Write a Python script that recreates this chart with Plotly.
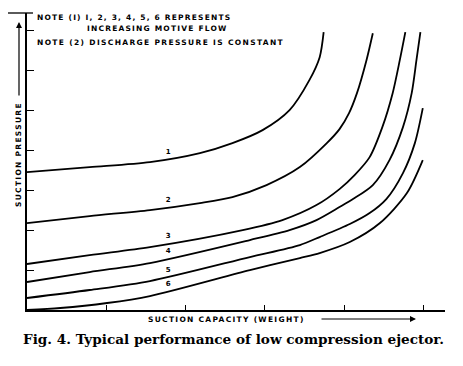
import plotly.graph_objects as go

# Curve data (suction capacity vs suction pressure, arbitrary units)
c1_x = [0, 0.79, 1.55, 2.18, 2.59, 2.97, 3.31, 3.56, 3.69, 3.74]
c1_y = [3.45, 3.575, 3.7, 3.925, 4.175, 4.5, 5.0, 5.75, 6.325, 6.95]
c2_x = [0, 0.79, 1.55, 2.18, 2.59, 3.02, 3.44, 3.78, 3.94, 4.06, 4.16, 4.28, 4.36]
c2_y = [2.175, 2.35, 2.5, 2.675, 2.825, 3.125, 3.575, 4.175, 4.525, 4.925, 5.425, 6.25, 6.925]
c3_x = [0, 0.79, 1.55, 2.72, 3.22, 3.65, 3.94, 4.13, 4.32, 4.48, 4.61, 4.70, 4.77]
c3_y = [1.15, 1.375, 1.575, 2.0, 2.25, 2.625, 3.025, 3.375, 3.825, 4.575, 5.425, 6.25, 6.95]
c4_x = [0, 0.79, 1.55, 2.81, 3.31, 3.65, 3.94, 4.11, 4.36, 4.57, 4.74, 4.85, 4.91, 4.96]
c4_y = [0.7, 0.95, 1.175, 1.75, 2.0, 2.25, 2.575, 2.775, 3.125, 3.75, 4.575, 5.425, 6.25, 6.95]
c5_x = [0, 0.79, 1.55, 2.81, 3.44, 3.69, 4.07, 4.32, 4.53, 4.74, 4.89, 4.99]
c5_y = [0.3, 0.5, 0.725, 1.325, 1.625, 1.825, 2.15, 2.425, 2.775, 3.425, 4.175, 5.05]
c6_x = [0, 0.42, 1.01, 1.55, 2.81, 3.44, 3.69, 4.07, 4.45, 4.79, 4.99]
c6_y = [0, 0.05, 0.175, 0.35, 1.0, 1.3, 1.425, 1.7, 2.175, 2.925, 3.75]

curve_labels = ["1", "2", "3", "4", "5", "6"]
label_x = [1.78, 1.78, 1.78, 1.78, 1.78, 1.78]
label_y = [3.95, 2.75, 1.85, 1.475, 1.0, 0.65]

x_ticks = [1, 2, 3, 4, 5]
y_ticks = [1, 2, 3, 4, 5, 6, 7]

# page body has an 8px margin; figure is laid out in page pixel coordinates
OFF = 8
W, H = 463 - 2 * OFF, 366 - 2 * OFF
L, R, T, B = 27, 445, 13, 310


def px(x):
    return (x - L) / (R - L)


def py(y):
    return (B - y) / (B - T)


def spaced(s, sp):
    return '<span style="letter-spacing:%spx">%s</span>' % (sp, s)


fig = go.Figure()
for xs, ys in [(c1_x, c1_y), (c2_x, c2_y), (c3_x, c3_y), (c4_x, c4_y), (c5_x, c5_y), (c6_x, c6_y)]:
    fig.add_trace(go.Scatter(x=xs, y=ys, mode="lines",
                             line=dict(color="black", width=1.8, shape="spline", smoothing=0.8),
                             showlegend=False, hoverinfo="skip"))

fig.add_trace(go.Scatter(x=label_x, y=label_y, mode="text", text=curve_labels,
                         textfont=dict(family="DejaVu Sans", size=7, color="black", weight="bold"),
                         showlegend=False, hoverinfo="skip"))

note_font = dict(family="DejaVu Sans", size=7.5, color="black", weight="bold")
lab_font = dict(family="DejaVu Sans", size=7.5, color="black", weight="bold")
annotations = [
    dict(x=px(35), y=py(17), xref="paper", yref="paper", text=spaced("NOTE (I) I, 2, 3, 4, 5, 6 REPRESENTS", 1.2),
         showarrow=False, xanchor="left", yanchor="middle", font=note_font),
    dict(x=px(85), y=py(29), xref="paper", yref="paper", text=spaced("INCREASING MOTIVE FLOW", 1.2),
         showarrow=False, xanchor="left", yanchor="middle", font=note_font),
    dict(x=px(35), y=py(42), xref="paper", yref="paper", text=spaced("NOTE (2) DISCHARGE PRESSURE IS CONSTANT", 1.35),
         showarrow=False, xanchor="left", yanchor="middle", font=note_font),
    dict(x=px(18), y=py(155), xref="paper", yref="paper", text=spaced("SUCTION PRESSURE", 1.3), textangle=-90,
         showarrow=False, xanchor="center", yanchor="middle", font=lab_font),
    dict(x=px(226), y=py(319), xref="paper", yref="paper", text=spaced("SUCTION CAPACITY (WEIGHT)", 1.3),
         showarrow=False, xanchor="center", yanchor="middle", font=lab_font),
    dict(x=px(233), y=py(339), xref="paper", yref="paper",
         text="Fig. 4. Typical performance of low compression ejector.",
         showarrow=False, xanchor="center", yanchor="middle",
         font=dict(family="DejaVu Serif", size=13.6, color="black", weight="bold")),
    # x-label arrow
    dict(x=px(416), y=py(319), xref="paper", yref="paper", ax=-96, ay=0, axref="pixel", ayref="pixel",
         text="", showarrow=True, arrowhead=2, arrowsize=1, arrowwidth=1.2, arrowcolor="black"),
    # y-label arrow
    dict(x=px(19), y=py(22), xref="paper", yref="paper", ax=0, ay=75, axref="pixel", ayref="pixel",
         text="", showarrow=True, arrowhead=2, arrowsize=1, arrowwidth=1.2, arrowcolor="black"),
]

shapes = [
    dict(type="line", xref="paper", yref="paper", x0=px(7), x1=px(33), y0=py(13), y1=py(13),
         line=dict(color="black", width=1.3)),
]

fig.update_layout(
    width=W, height=H,
    margin=dict(l=L - OFF, r=W - (R - OFF), t=T - OFF, b=H - (B - OFF)),
    paper_bgcolor="white", plot_bgcolor="white",
    annotations=annotations, shapes=shapes,
    xaxis=dict(range=[0, 5.27], tickvals=x_ticks, ticks="inside", ticklen=5, tickwidth=1.2,
               tickcolor="black", showticklabels=False, showgrid=False, zeroline=False,
               showline=True, linecolor="black", linewidth=1.5, fixedrange=True),
    yaxis=dict(range=[0, 7.43], tickvals=y_ticks, ticks="inside", ticklen=7, tickwidth=1.2,
               tickcolor="black", showticklabels=False, showgrid=False, zeroline=False,
               showline=True, linecolor="black", linewidth=1.5, fixedrange=True),
)

fig.write_html("out.html")
